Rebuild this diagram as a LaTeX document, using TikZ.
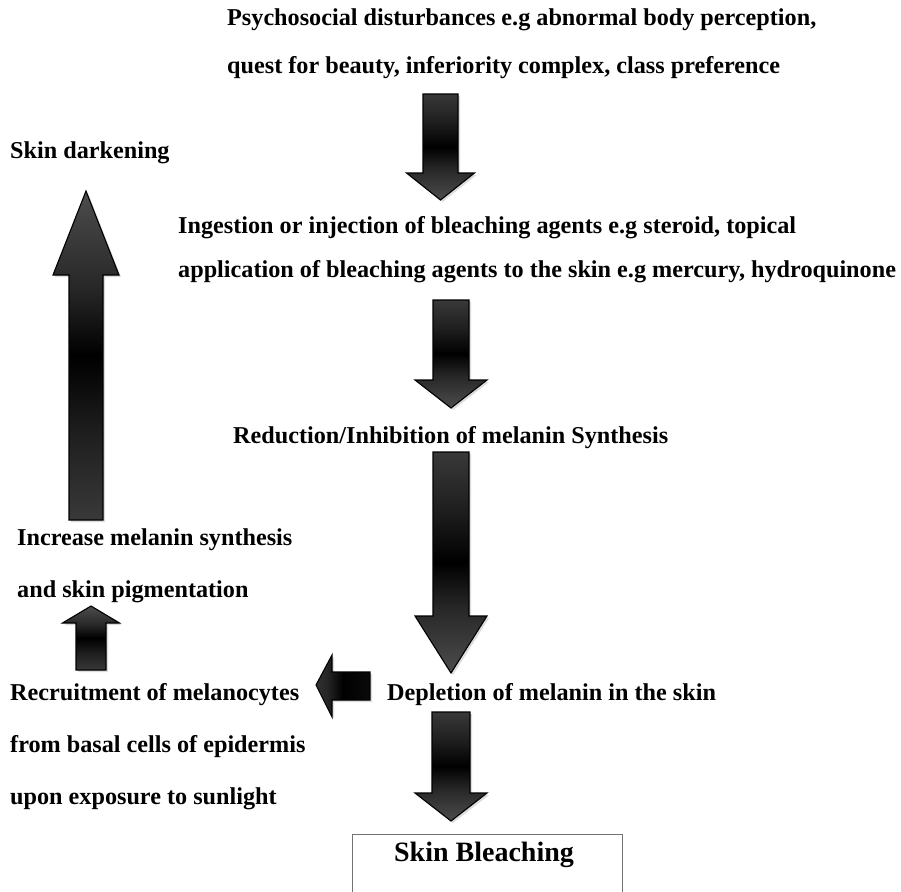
\documentclass[tikz,border=0pt]{standalone}
\usepackage{fontspec}
\setmainfont{Liberation Serif}
\usetikzlibrary{shadings}
\pgfdeclareverticalshading{arrowshade}{100bp}{color(0bp)=(black!64); color(25bp)=(black!70); color(40bp)=(black!85); color(50bp)=(black); color(62bp)=(black!88); color(100bp)=(black!58)}
\pgfdeclareverticalshading{leftshade}{100bp}{color(0bp)=(black!70); color(35bp)=(black!85); color(50bp)=(black); color(100bp)=(black!92)}
\tikzset{
  lbl/.style={anchor=base west, inner sep=0pt, font=\bfseries\fontsize{24.2}{28}\selectfont},
  blockarrow/.style={shading=arrowshade, draw=black, line width=1.1pt, line join=miter},
  arrowshadow/.style={fill=black!30, opacity=0.45, draw=none}
}
\newcommand\vblock[7]{% options, x, halfshaft, start y, head base y, head half, tip y
  \fill[arrowshadow] ({#2-#3+2},{#4+2}) -- ({#2+#3+2},{#4+2}) -- ({#2+#3+2},{#5+2}) -- ({#2+#6+2},{#5+2}) -- ({#2+2},{#7+2}) -- ({#2-#6+2},{#5+2}) -- ({#2-#3+2},{#5+2}) -- cycle;
  \shadedraw[blockarrow,#1] ({#2-#3},#4) -- ({#2+#3},#4) -- ({#2+#3},#5) -- ({#2+#6},#5) -- (#2,#7) -- ({#2-#6},#5) -- ({#2-#3},#5) -- cycle;
}
\begin{document}
\begin{tikzpicture}[x=1pt,y=-1pt]
\useasboundingbox[fill=white] (0,0) rectangle (901,891);

% texts
\node[lbl] (t1a) at (227,26) {Psychosocial disturbances e.g abnormal body perception,};
\node[lbl] (t1b) at (227,74) {quest for beauty, inferiority complex, class preference};
\node[lbl] (dark) at (10,158) {Skin darkening};
\node[lbl] (t2a) at (178,233) {Ingestion or injection of bleaching agents e.g steroid, topical};
\node[lbl] (t2b) at (178,277) {application of bleaching agents to the skin e.g mercury, hydroquinone};
\node[lbl] (t3) at (233,443) {Reduction/Inhibition of melanin Synthesis};
\node[lbl] (inca) at (17,545) {Increase melanin synthesis};
\node[lbl] (incb) at (17,597) {and skin pigmentation};
\node[lbl] (reca) at (10,700) {Recruitment of melanocytes};
\node[lbl] (recb) at (10,752) {from basal cells of epidermis};
\node[lbl] (recc) at (10,804) {upon exposure to sunlight};
\node[lbl] (dep) at (387,700) {Depletion of melanin in the skin};

% result box (open at the bottom edge of the picture)
\draw[black!55, line width=0.9pt] (352,895) -- (352,834) -- (622,834) -- (622,895);
\node[anchor=base, inner sep=0pt, font=\bfseries\fontsize{28}{32}\selectfont] (bleach) at (484,861) {Skin Bleaching};

% block arrows
\vblock{shading angle=0}{440.5}{17.5}{94}{173}{34}{200}
\vblock{shading angle=180}{86}{17}{520}{275}{33}{191}
\vblock{shading angle=0}{451}{18}{300}{380}{36}{408}
\vblock{shading angle=0}{451}{18}{452}{616}{36}{673}
\vblock{shading angle=180}{91}{15}{670}{623}{28.5}{606}
\vblock{shading angle=0}{451}{19}{712}{793}{36}{821}

% left arrow
\fill[arrowshadow] (372,674) -- (372,702) -- (334,702) -- (334,719) -- (318,687) -- (334,657) -- (334,674) -- cycle;
\shadedraw[blockarrow, shading=leftshade, shading angle=-90] (370,672) -- (370,700) -- (332,700) -- (332,717) -- (316,685) -- (332,655) -- (332,672) -- cycle;
\end{tikzpicture}
\end{document}
